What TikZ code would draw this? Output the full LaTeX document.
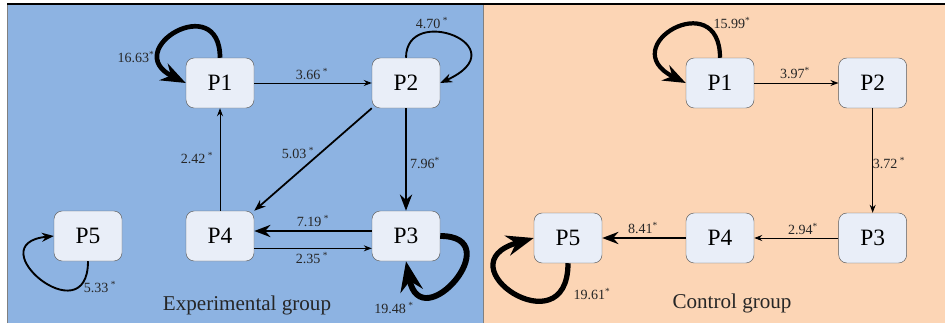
\documentclass[tikz,border=0pt]{standalone}
\usepackage{fontspec}
\setmainfont{Liberation Serif}
\usetikzlibrary{arrows.meta}
\definecolor{expblue}{HTML}{8DB3E2}
\definecolor{ctrlpeach}{HTML}{FCD5B5}
\definecolor{boxfill}{HTML}{E9EEF8}

\begin{document}
\begin{tikzpicture}[
    state/.style={draw=black!65, fill=boxfill, rounded corners=7pt, minimum width=2.04cm, minimum height=1.5cm, font=\fontsize{20}{22}\selectfont},
    coef/.style={font=\fontsize{12}{14}\selectfont, text=black!85},
    group/.style={font=\fontsize{18}{20}\selectfont, text=black!85},
    >={Stealth}]
    \useasboundingbox (0,0) rectangle (28.35,9.69);
    \fill[white] (0,0) rectangle (28.35,9.69);
    \fill[expblue] (0.21,0) rectangle (14.49,9.57);
    \fill[ctrlpeach] (14.49,0) rectangle (28.35,9.57);
    \draw[black!50, line width=0.8pt] (0.21,0) -- (0.21,9.57) (14.49,0) -- (14.49,9.57);
    \draw[black, line width=0.9pt] (0.21,9.57) -- (28.35,9.57);

    % experimental group
    \node[state] (e1) at (6.60, 7.20) {P1};
    \node[state] (e2) at (12.18, 7.20) {P2};
    \node[state] (e3) at (12.18, 2.61) {P3};
    \node[state] (e4) at (6.60, 2.61) {P4};
    \node[state] (e5) at (2.64, 2.61) {P5};
    \draw[->, line width=0.85pt] (e1) -- (e2);
    \draw[->, line width=2.4pt] (e2) -- (e3);
    \draw[->, line width=1.5pt] (e2.south west) -- (e4.north east);
    \draw[->, line width=0.85pt] (e4) -- (e1);
    \draw[->, line width=2.4pt] ([yshift=0.15cm]e3.west) -- ([yshift=0.15cm]e4.east);
    \draw[->, line width=0.85pt] ([yshift=-0.37cm]e4.east) -- ([yshift=-0.37cm]e3.west);
    \draw[->, line width=4pt] (e1.north) .. controls +(0,2.05) and +(-2.0,1.0) .. (e1.west);
    \draw[->, line width=1.6pt] (e2.north) .. controls +(0,1.65) and +(2.4,1.1) .. (e2.east);
    \draw[->, line width=5pt] (e3.east) .. controls +(2.1,0) and +(0.45,-2.35) .. (e3.south);
    \draw[->, line width=1.6pt] (e5.south) .. controls +(0,-2.26) and +(-2.32,-0.24) .. (e5.west);
    \node[coef] at (4.08, 7.98) {16.63\textsuperscript{*}};
    \node[coef] at (9.36, 7.47) {3.66\,\textsuperscript{*}};
    \node[coef] at (12.96, 9.00) {4.70\,\textsuperscript{*}};
    \node[coef] at (5.91, 4.95) {2.42\,\textsuperscript{*}};
    \node[coef] at (8.94, 5.10) {5.03\,\textsuperscript{*}};
    \node[coef] at (12.75, 4.80) {7.96\textsuperscript{*}};
    \node[coef] at (9.39, 3.06) {7.19\,\textsuperscript{*}};
    \node[coef] at (9.36, 1.95) {2.35\,\textsuperscript{*}};
    \node[coef] at (3.00, 1.08) {5.33\,\textsuperscript{*}};
    \node[coef] at (11.82, 0.45) {19.48\,\textsuperscript{*}};
    \node[group] at (7.41, 0.54) {Experimental group};

    % control group
    \node[state] (c1) at (21.60, 7.20) {P1};
    \node[state] (c2) at (26.18, 7.20) {P2};
    \node[state] (c3) at (26.18, 2.55) {P3};
    \node[state] (c4) at (21.60, 2.55) {P4};
    \node[state] (c5) at (17.04, 2.55) {P5};
    \draw[->, line width=3.6pt] (c1.north) .. controls +(0,2.2) and +(-2.2,1.1) .. (c1.west);
    \draw[->, line width=0.85pt] (c1) -- (c2);
    \draw[->, line width=0.85pt] (c2) -- (c3);
    \draw[->, line width=0.85pt] (c3) -- (c4);
    \draw[->, line width=2.4pt] (c4) -- (c5);
    \draw[->, line width=4.5pt] (c5.south) .. controls +(0,-2.6) and +(-2.8,-0.8) .. (c5.west);
    \node[coef] at (21.96, 9.00) {15.99\textsuperscript{*}};
    \node[coef] at (23.85, 7.50) {3.97\textsuperscript{*}};
    \node[coef] at (26.67, 4.80) {3.72\,\textsuperscript{*}};
    \node[coef] at (24.09, 2.82) {2.94\textsuperscript{*}};
    \node[coef] at (19.29, 2.85) {8.41\textsuperscript{*}};
    \node[coef] at (17.76, 0.87) {19.61\textsuperscript{*}};
    \node[group] at (21.96, 0.60) {Control group};
\end{tikzpicture}
\end{document}
